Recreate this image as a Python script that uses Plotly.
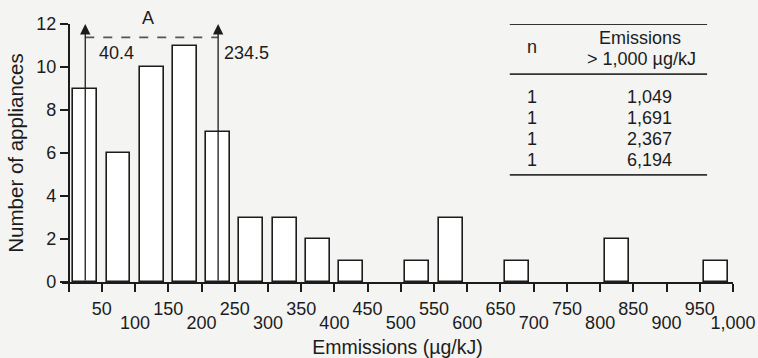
import plotly.graph_objects as go

# ---- data ----
bin_centers = [25, 75, 125, 175, 225, 275, 325, 375, 425, 475,
               525, 575, 625, 675, 725, 775, 825, 875, 925, 975]
counts = [9, 6, 10, 11, 7, 3, 3, 2, 1, 0,
          1, 3, 0, 1, 0, 0, 2, 0, 0, 1]

tick_vals_upper = [50, 150, 250, 350, 450, 550, 650, 750, 850, 950]
tick_text_upper = ["50", "150", "250", "350", "450", "550", "650", "750", "850", "950"]
tick_vals_lower = [100, 200, 300, 400, 500, 600, 700, 800, 900, 1000]
tick_text_lower = ["100", "200", "300", "400", "500", "600", "700", "800", "900", "1,000"]
tick_marks = [0, 50, 100, 150, 200, 250, 300, 350, 400, 450, 500,
              550, 600, 650, 700, 750, 800, 850, 900, 950, 1000]

y_ticks = [0, 2, 4, 6, 8, 10, 12]

# interval marks (arrows) and their labels
arrow_x = [25, 225]
arrow_labels = ["40.4", "234.5"]
interval_name = "A"

# inset table
table_n = ["1", "1", "1", "1"]
table_values = ["1,049", "1,691", "2,367", "6,194"]
table_header_n = "n"
table_header_val = ["Emissions", "> 1,000 µg/kJ"]

FONT = "Liberation Sans, Arial, sans-serif"
INK = "#1c1c1c"
BG = "#f4f4f2"
TICK_FS = 18
TITLE_FS = 19.5
TXT_FS = 18

# only draw non-empty bins
bx = [c for c, n in zip(bin_centers, counts) if n > 0]
by = [n for n in counts if n > 0]

fig = go.Figure()
fig.add_trace(go.Bar(
    x=bx, y=by, width=36,
    marker=dict(color="white", line=dict(color=INK, width=1.6)),
    showlegend=False, hoverinfo="skip",
))
# invisible trace for the second tick-label row axis
fig.add_trace(go.Scatter(x=[None], y=[None], xaxis="x2", showlegend=False))

XMIN, XMAX = -10, 1000

# arrows
for xv in arrow_x:
    fig.add_annotation(x=xv, y=12, ax=xv, ay=0, xref="x", yref="y", axref="x", ayref="y",
                       text="", showarrow=True, arrowhead=2, arrowsize=1.6, arrowwidth=1.3,
                       arrowcolor=INK, standoff=0, startstandoff=0)
fig.add_shape(type="line", x0=arrow_x[0], x1=arrow_x[1], y0=11.38, y1=11.38,
              xref="x", yref="y", line=dict(color="#555", width=1.6, dash="dash"))
fig.add_annotation(x=119, y=12.3 / 12, xref="x", yref="paper", yanchor="middle",
                   xanchor="center", text=interval_name,
                   showarrow=False, font=dict(family=FONT, size=TXT_FS, color=INK))
fig.add_annotation(x=72, y=10.65, text=arrow_labels[0], showarrow=False,
                   font=dict(family=FONT, size=TXT_FS, color=INK))
fig.add_annotation(x=268, y=10.65, text=arrow_labels[1], showarrow=False,
                   font=dict(family=FONT, size=TXT_FS, color=INK))

# table
for yv in [12.0, 9.67, 4.98]:
    fig.add_shape(type="line", x0=664, x1=961, y0=yv, y1=yv, xref="x", yref="y",
                  line=dict(color="#333", width=1.8))
fig.add_annotation(x=697, y=10.95, text=table_header_n, showarrow=False,
                   font=dict(family=FONT, size=TXT_FS, color=INK))
fig.add_annotation(x=860, y=11.35, text=table_header_val[0], showarrow=False,
                   font=dict(family=FONT, size=TXT_FS, color=INK))
fig.add_annotation(x=862, y=10.37, text=table_header_val[1], showarrow=False,
                   font=dict(family=FONT, size=TXT_FS, color=INK))
row_y = [8.6, 7.63, 6.65, 5.67]
for n, v, yy in zip(table_n, table_values, row_y):
    fig.add_annotation(x=697, y=yy, text=n, showarrow=False,
                       font=dict(family=FONT, size=TXT_FS, color=INK))
    fig.add_annotation(x=875, y=yy, text=v, showarrow=False,
                       font=dict(family=FONT, size=TXT_FS, color=INK))

upper_text = [tick_text_upper[tick_vals_upper.index(v)] if v in tick_vals_upper else ""
              for v in tick_marks]

fig.update_layout(
    width=758, height=358,
    margin=dict(l=62, r=25, t=24, b=76, autoexpand=False),
    paper_bgcolor=BG, plot_bgcolor=BG,
    font=dict(family=FONT, size=TICK_FS, color=INK),
    bargap=0,
    xaxis=dict(
        range=[XMIN, XMAX], showgrid=False, zeroline=False, automargin=False,
        showline=True, linecolor=INK, linewidth=1.5,
        ticks="outside", ticklen=8, tickwidth=1.5, tickcolor=INK,
        tickvals=tick_marks, ticktext=upper_text,
        tickfont=dict(size=TICK_FS), ticklabelstandoff=2,
        title=dict(text="Emmissions (µg/kJ)", standoff=26, font=dict(size=TITLE_FS)),
        fixedrange=True,
    ),
    xaxis2=dict(
        range=[XMIN, XMAX], overlaying="x", anchor="y", side="bottom", automargin=False,
        showgrid=False, zeroline=False, showline=False, ticks="",
        tickvals=tick_vals_lower, ticktext=tick_text_lower,
        tickfont=dict(size=TICK_FS), ticklabelstandoff=28, fixedrange=True,
    ),
    yaxis=dict(
        range=[0, 12], anchor="free", position=(0 - XMIN) / (XMAX - XMIN),
        showgrid=False, zeroline=False, automargin=False, fixedrange=True,
        showline=True, linecolor=INK, linewidth=1.5,
        ticks="outside", ticklen=8, tickwidth=1.5, tickcolor=INK,
        tickvals=y_ticks, tickfont=dict(size=TICK_FS),
        title=dict(text="Number of appliances", standoff=6, font=dict(size=20.5)),
    ),
)

fig.write_html("out.html", config={"displayModeBar": False},
               post_script="document.body.style.margin='0';document.body.style.overflow='hidden';")
